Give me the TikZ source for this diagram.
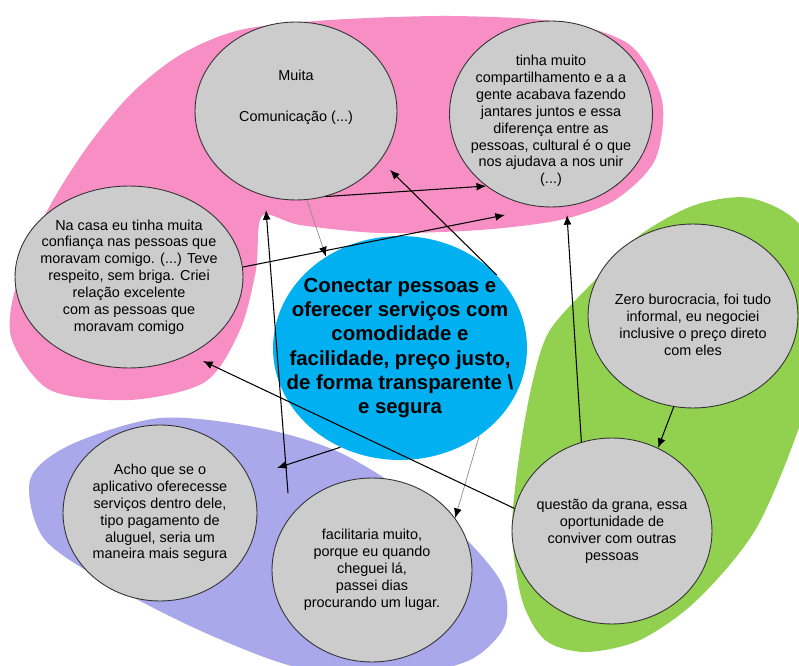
\documentclass[tikz,border=0pt]{standalone}
\usepackage{fontspec}
\setmainfont{Liberation Sans}
\usetikzlibrary{shapes.geometric,arrows.meta}
\definecolor{rosa}{RGB}{247,143,196}
\definecolor{lilas}{RGB}{168,168,234}
\definecolor{verde}{RGB}{146,208,80}
\definecolor{azul}{RGB}{0,176,240}
\definecolor{cinza}{RGB}{204,204,204}

\begin{document}
\begin{tikzpicture}[
            x = 0.02cm, y = -0.02cm,
            fala/.style = {ellipse, draw = black!80, line width = 0.5pt, fill = cinza, inner sep = -16pt,
                           align = center, font = \fontsize{8.2}{9.6}\selectfont},
            nucleo/.style = {ellipse, fill = azul, inner sep = -16pt, align = center,
                             font = \bfseries\fontsize{11.6}{13.8}\selectfont},
            seta/.style = {-{Latex[length = 5.5pt, width = 4.5pt]}, line width = 0.6pt},
            fraca/.style = {-{Latex[length = 5.5pt, width = 4.5pt, color = black]}, draw = black!45, line width = 0.4pt}
            ]
            \clip (0,0) rectangle (799,666);

            \fill[rosa] plot[smooth cycle] coordinates {(240,30) (330,20) (450,16) (560,22) (630,45) (662,100)
                  (655,160) (615,200) (560,220) (480,230) (380,233) (300,225) (262,216) (256,270) (240,330)
                  (205,382) (130,400) (50,390) (12,340) (15,290) (45,215) (85,150) (130,95) (180,55)};
            \fill[lilas] plot[smooth cycle] coordinates {(30,480) (70,445) (160,418) (260,428) (345,455)
                  (445,520) (500,580) (505,625) (470,660) (400,675) (300,668) (210,635) (120,590) (45,540)};
            \fill[verde] plot[smooth cycle] coordinates {(550,330) (595,280) (640,235) (695,205) (750,198)
                  (800,225) (830,300) (805,410) (757,527) (697,600) (640,640) (585,652) (545,640) (522,600)
                  (512,530) (520,450) (533,380)};

            \node[fala, minimum width = 4.04cm, minimum height = 3.56cm] (muita) at (296,111)
                 {Muita\\[14pt]Comunicação (...)\\[8pt]\mbox{}};
            \node[fala, minimum width = 4.06cm, minimum height = 3.72cm] (tinha) at (551,114)
                 {\rule{0pt}{14pt}tinha muito\\compartilhamento e a a\\gente acabava fazendo\\jantares juntos e essa\\
                  diferença entre as\\pessoas, cultural é o que\\nos ajudava a nos unir\\(...)};
            \node[fala, minimum width = 4.56cm, minimum height = 3.64cm] (nacasa) at (129,277)
                 {Na casa eu tinha muita\\confiança nas pessoas que\\moravam comigo. (...) Teve\\
                  respeito, sem briga. Criei\\relação excelente\\com as pessoas que\\moravam comigo};
            \node[nucleo, minimum width = 5.08cm, minimum height = 4.48cm] (centro) at (400,348)
                 {Conectar pessoas e\\oferecer serviços com\\comodidade e\\facilidade, preço justo,\\
                  de forma transparente \textbackslash\\e segura};
            \node[fala, minimum width = 4.2cm, minimum height = 3.68cm] (zero) at (693,316)
                 {\rule{0pt}{16pt}Zero burocracia, foi tudo\\informal, eu negociei\\inclusive o preço direto\\com eles};
            \node[fala, minimum width = 3.88cm, minimum height = 3.52cm] (acho) at (160,513)
                 {Acho que se o\\aplicativo oferecesse\\serviços dentro dele,\\tipo pagamento de\\
                  aluguel, seria um\\maneira mais segura};
            \node[fala, minimum width = 4.0cm, minimum height = 3.68cm] (facil) at (372,570)
                 {facilitaria muito,\\porque eu quando\\cheguei lá,\\passei dias\\procurando um lugar.};
            \node[fala, minimum width = 4.0cm, minimum height = 3.72cm] (questao) at (612,531)
                 {questão da grana, essa\\oportunidade de\\conviver com outras\\pessoas};

            \coordinate (pc) at (505,215);
            \coordinate (pd) at (390,170);
            \coordinate (pe0) at (288,493);
            \coordinate (pe) at (266,210);
            \coordinate (pf) at (277,468);
            \coordinate (ph) at (203,361);
            \coordinate (pi) at (567,215);

            \draw[fraca] (muita.277) -- (centro.129);
            \draw[seta] (muita.289) -- (tinha.228);
            \draw[seta] (nacasa.5) -- (pc);
            \draw[seta] (centro.37) -- (pd);
            \draw[seta] (pe0) -- (pe);
            \draw[seta] (centro.239) -- (pf);
            \draw[fraca] (centro.312) -- (facil.32);
            \draw[seta] (questao.167) -- (ph);
            \draw[seta] (questao.109) -- (pi);
            \draw[seta] (zero.258) -- (questao.61);
          \end{tikzpicture}
\end{document}
